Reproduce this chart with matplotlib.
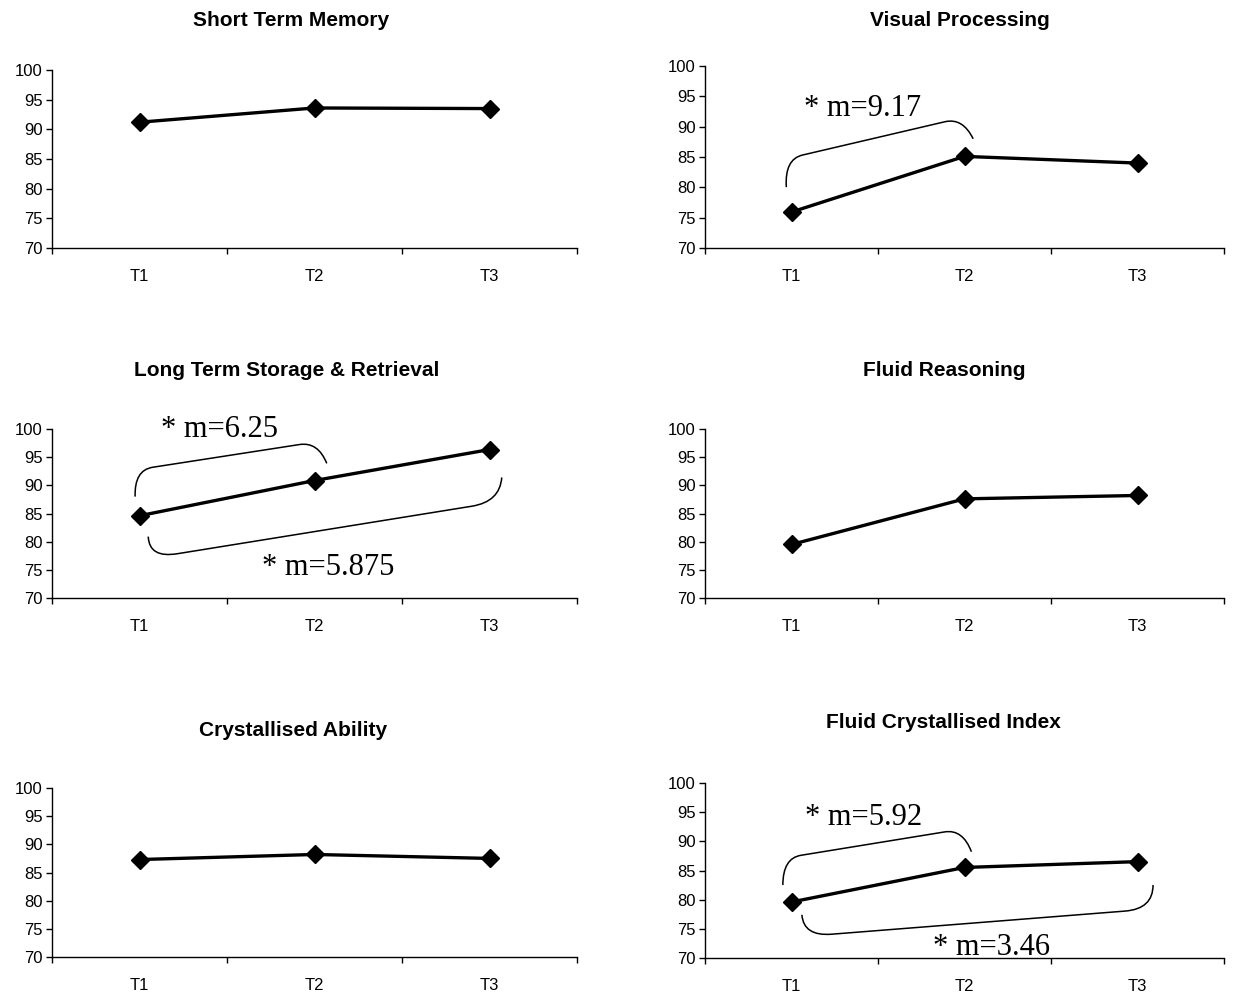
import matplotlib
matplotlib.use("Agg")
import matplotlib.pyplot as plt
from matplotlib.path import Path
from matplotlib.patches import PathPatch
from matplotlib.ticker import FixedLocator, NullFormatter

# ---- data ----------------------------------------------------------------
times = ["T1", "T2", "T3"]
short_term_memory = [91.2, 93.6, 93.5]
visual_processing = [75.93, 85.10, 84.0]
long_term_storage = [84.6, 90.85, 96.35]
fluid_reasoning = [79.5, 87.6, 88.2]
crystallised_ability = [87.3, 88.2, 87.5]
fluid_crystallised_index = [79.6, 85.52, 86.52]

titles = ["Short Term Memory", "Visual Processing",
          "Long Term Storage & Retrieval", "Fluid Reasoning",
          "Crystallised Ability", "Fluid Crystallised Index"]
series = [short_term_memory, visual_processing, long_term_storage,
          fluid_reasoning, crystallised_ability, fluid_crystallised_index]
y_ticks = [70, 75, 80, 85, 90, 95, 100]

# ---- layout (pixels) -----------------------------------------------------
W, H = 1243, 997
fig = plt.figure(figsize=(W / 100, H / 100), dpi=100)

# left, right, top, bottom of each plot area
boxes = [(52, 577, 70, 248), (705, 1224, 66, 248),
         (52, 577, 429, 598), (705, 1224, 429, 598),
         (52, 577, 788, 957), (705, 1224, 783, 958)]
title_pos = [(291, 20), (960, 20), (287, 370), (944, 370), (293, 730), (943, 722)]

# slope brackets: panel, first index, second index,
# offsets (dx, dy) from the data points for leg start, corner, corner, leg end,
# label baseline position (x, y) and corner rounding
brackets = [
    (1, 0, 1, (-0.03, 4.1), (-0.04, 8.7), (-0.01, 6.4), (0.05, 2.9), (1.075, 91.7), 0.10),
    (2, 0, 1, (-0.025, 3.4), (-0.03, 8.1), (0.02, 6.9), (0.07, 3.05), (1.12, 98.5), 0.10),
    (2, 0, 2, (0.05, -3.7), (0.055, -7.55), (0.06, -9.25), (0.07, -4.95), (1.70, 74.1), 0.08),
    (5, 0, 1, (-0.05, 2.9), (-0.05, 7.5), (-0.01, 6.6), (0.04, 2.7), (1.08, 92.8), 0.10),
    (5, 0, 2, (0.06, -2.2), (0.07, -5.9), (0.09, -8.1), (0.09, -4.0), (1.82, 70.5), 0.08),
]

sans = "Liberation Sans"
serif = "Liberation Serif"

axes = []
x = list(range(1, len(times) + 1))
for i, (l, r, t, b) in enumerate(boxes):
    ax = fig.add_axes([l / W, 1 - b / H, (r - l) / W, (b - t) / H])
    ax.plot(x, series[i], color="black", lw=2.4, marker="D", ms=9.5,
            mfc="black", mec="black", solid_joinstyle="round", clip_on=False, zorder=3)
    ax.set_xlim(0.5, len(times) + 0.5)
    ax.set_ylim(70, 100)
    for s in ("top", "right"):
        ax.spines[s].set_visible(False)
    for s in ("left", "bottom"):
        ax.spines[s].set_linewidth(1.0)
    ax.set_yticks(y_ticks)
    ax.set_yticklabels([str(v) for v in y_ticks], fontfamily=sans, fontsize=12)
    ax.set_xticks(x)
    ax.set_xticklabels(times, fontfamily=sans, fontsize=12)
    ax.xaxis.set_minor_locator(FixedLocator([k + 0.5 for k in range(0, len(times) + 1)]))
    ax.xaxis.set_minor_formatter(NullFormatter())
    ax.tick_params(axis="x", which="major", length=0, pad=15)
    ax.tick_params(axis="x", which="minor", length=4.5, width=1.0, direction="out")
    ax.tick_params(axis="y", length=4.5, width=1.0, direction="out", pad=2)
    ax.patch.set_visible(False)
    tx, ty = title_pos[i]
    fig.text(tx / W, 1 - ty / H, titles[i], ha="center", va="center",
             fontfamily=sans, fontweight="bold", fontsize=15)
    axes.append(ax)


def slope_bracket(ax, p0, p1, a, b, c, d, frac):
    A = (p0[0] + a[0], p0[1] + a[1])
    B = (p0[0] + b[0], p0[1] + b[1])
    C = (p1[0] + c[0], p1[1] + c[1])
    D = (p1[0] + d[0], p1[1] + d[1])
    B2 = (B[0] + frac * (C[0] - B[0]), B[1] + frac * (C[1] - B[1]))
    C2 = (C[0] + frac * (B[0] - C[0]), C[1] + frac * (B[1] - C[1]))
    verts = [A, B, B2, C2, C, D]
    codes = [Path.MOVETO, Path.CURVE3, Path.CURVE3, Path.LINETO, Path.CURVE3, Path.CURVE3]
    ax.add_patch(PathPatch(Path(verts, codes), fill=False, lw=1.1,
                           edgecolor="black", clip_on=False, zorder=2))


for panel, i0, i1, a, b, c, d, (lx, ly), frac in brackets:
    ax = axes[panel]
    ys = series[panel]
    p0 = (x[i0], ys[i0])
    p1 = (x[i1], ys[i1])
    slope_bracket(ax, p0, p1, a, b, c, d, frac)
    m = round((ys[i1] - ys[i0]) / (x[i1] - x[i0]), 3)
    ax.text(lx, ly, "* m={:g}".format(m), ha="left", va="baseline",
            fontfamily=serif, fontsize=22, clip_on=False, zorder=4)

fig.savefig("out.png", dpi=100)
